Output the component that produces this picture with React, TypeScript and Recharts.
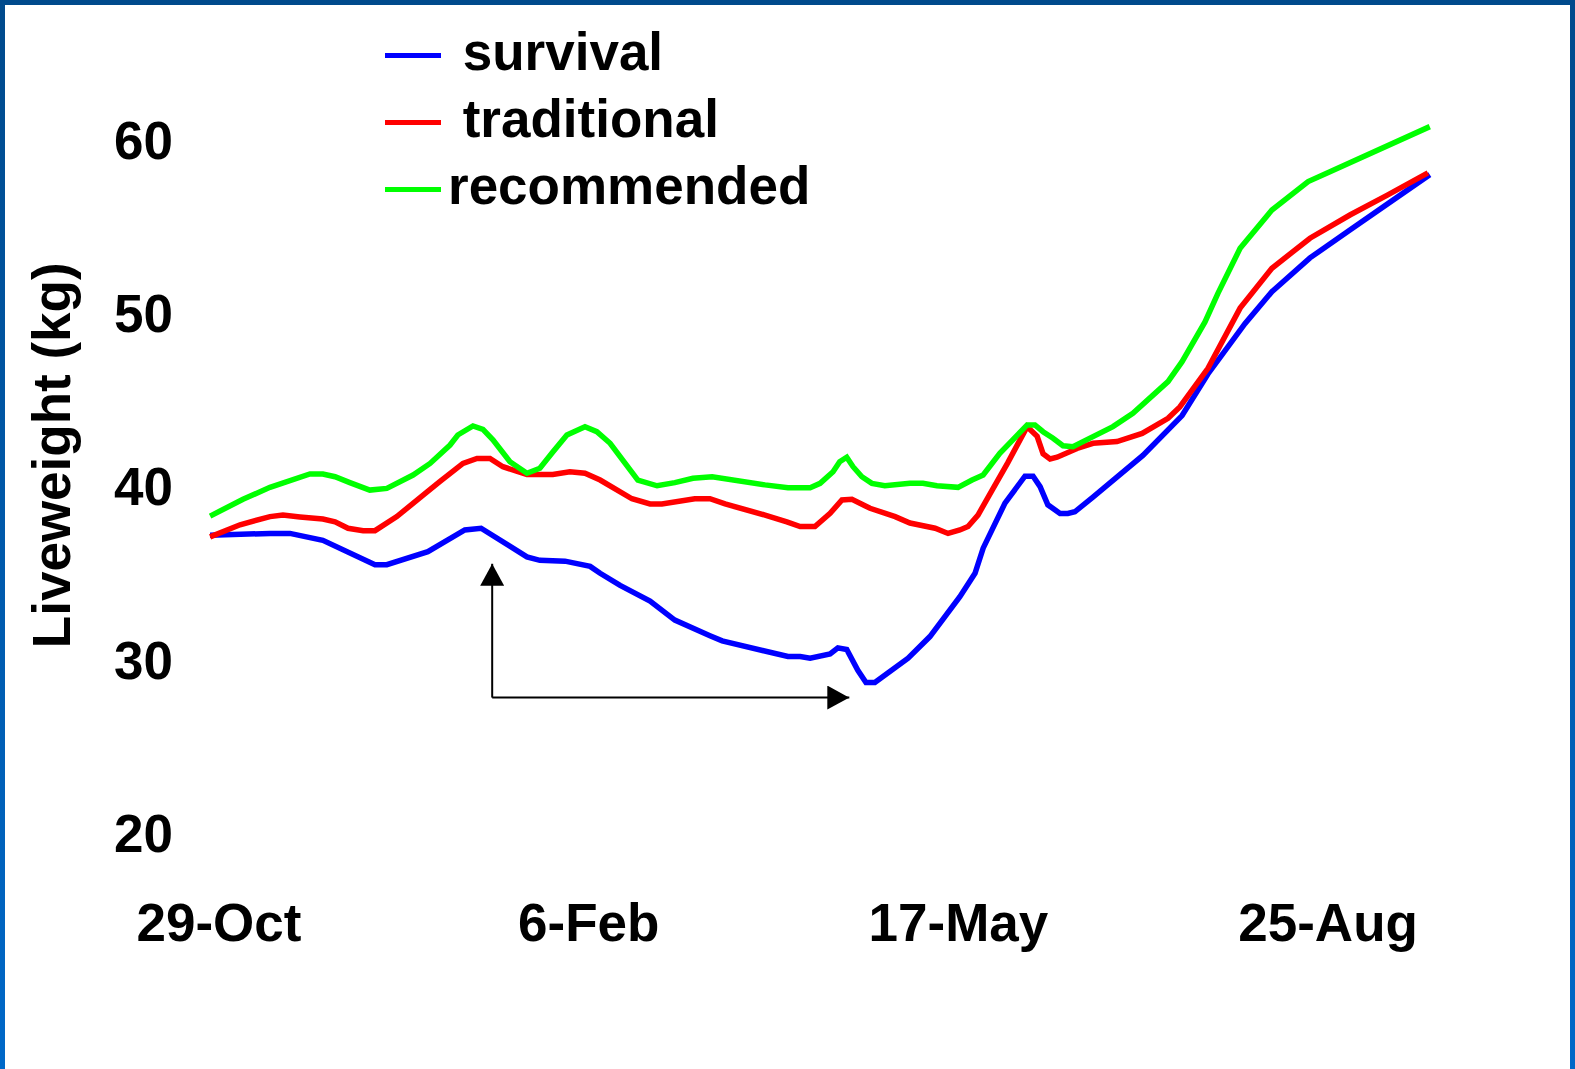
import { LineChart, Line, XAxis, YAxis, ReferenceLine, Legend } from "recharts";

// days counted from 29-Oct
const xTickDays = [0, 100, 200, 300];
const xTickLabels = ["29-Oct", "6-Feb", "17-May", "25-Aug"];
const yTicks = [20, 30, 40, 50, 60];

const survivalDays = [-2.4, 13.8, 19.2, 28.1, 42.2, 45.4, 56.5, 66.5, 70.9, 83.3, 86.8, 93.6, 100.4, 103.1, 108.5, 116.6, 123.3, 132.8, 136.1, 153.9, 157.2, 159.9, 165.3, 167.4, 169.8, 172.8, 175.0, 177.4, 186.4, 192.3, 200.4, 204.5, 206.7, 212.6, 218.0, 220.2, 222.1, 224.2, 227.5, 229.6, 231.5, 236.4, 249.9, 260.5, 267.5, 277.5, 284.8, 295.1, 305.9, 327.5];
const survivalKg = [37.2, 37.3, 37.3, 36.9, 35.5, 35.5, 36.25, 37.5, 37.6, 35.95, 35.75, 35.7, 35.4, 35.0, 34.3, 33.4, 32.3, 31.4, 31.1, 30.2, 30.2, 30.1, 30.35, 30.7, 30.6, 29.4, 28.7, 28.7, 30.1, 31.35, 33.65, 35.0, 36.45, 39.05, 40.6, 40.6, 40.0, 38.95, 38.45, 38.45, 38.55, 39.4, 41.8, 44.1, 46.5, 49.4, 51.25, 53.2, 54.8, 58.0];

const traditionalDays = [-2.4, 5.7, 13.8, 17.3, 21.9, 28.1, 31.4, 34.9, 39.0, 42.2, 48.1, 56.3, 59.8, 66.0, 69.8, 73.3, 76.8, 83.3, 90.3, 94.9, 99.0, 103.1, 111.7, 116.6, 119.8, 128.7, 132.8, 136.9, 147.7, 153.6, 157.2, 161.2, 165.3, 168.5, 171.2, 176.1, 182.9, 186.9, 193.7, 197.2, 200.4, 202.6, 205.3, 209.4, 213.3, 218.6, 221.3, 222.9, 224.8, 226.7, 232.1, 236.4, 242.9, 249.7, 256.7, 259.9, 267.5, 276.2, 284.8, 295.1, 305.9, 315.9, 327.0];
const traditionalKg = [37.1, 37.8, 38.27, 38.36, 38.25, 38.13, 37.97, 37.6, 37.46, 37.46, 38.27, 39.7, 40.3, 41.34, 41.63, 41.63, 41.15, 40.7, 40.7, 40.86, 40.77, 40.38, 39.3, 39.0, 39.0, 39.3, 39.3, 39.0, 38.36, 37.97, 37.7, 37.7, 38.46, 39.23, 39.27, 38.75, 38.27, 37.9, 37.6, 37.3, 37.5, 37.7, 38.36, 39.9, 41.36, 43.46, 42.9, 41.9, 41.6, 41.7, 42.2, 42.5, 42.6, 43.07, 43.94, 44.6, 46.83, 50.3, 52.6, 54.33, 55.67, 56.8, 58.1];

const recommendedDays = [-2.4, 6.5, 13.8, 24.6, 28.1, 31.4, 35.4, 40.8, 45.4, 52.5, 57.1, 62.5, 64.6, 68.7, 71.4, 74.1, 78.7, 83.3, 86.8, 90.3, 94.1, 99.0, 102.2, 105.8, 113.3, 118.5, 123.3, 128.2, 133.4, 147.7, 153.9, 159.9, 162.6, 166.1, 167.9, 169.8, 171.5, 173.9, 176.6, 180.1, 186.9, 190.4, 194.2, 199.9, 203.7, 206.7, 211.2, 218.6, 220.7, 222.9, 225.6, 228.3, 231.0, 233.7, 241.8, 247.2, 253.7, 256.7, 260.5, 266.7, 270.2, 276.2, 284.8, 294.6, 300.5, 327.5];
const recommendedKg = [38.3, 39.27, 39.96, 40.73, 40.73, 40.57, 40.23, 39.8, 39.9, 40.67, 41.34, 42.4, 42.98, 43.5, 43.3, 42.7, 41.44, 40.77, 41.06, 42.0, 42.98, 43.46, 43.17, 42.5, 40.38, 40.05, 40.23, 40.48, 40.57, 40.1, 39.94, 39.94, 40.19, 40.86, 41.44, 41.7, 41.15, 40.57, 40.19, 40.05, 40.19, 40.19, 40.05, 39.96, 40.38, 40.67, 41.92, 43.56, 43.56, 43.17, 42.79, 42.36, 42.3, 42.6, 43.46, 44.23, 45.48, 46.06, 47.21, 49.5, 51.15, 53.75, 55.96, 57.6, 58.17, 60.77];

// arrow annotation: corner, top of the vertical arm, end of the horizontal arm
const arrowCorner = { x: 73.9, y: 27.83 };
const arrowUpTo = 35.55;
const arrowRightTo = 170.5;

const toPoints = (days: number[], kg: number[]) =>
  days.map((day, i) => ({ day, kg: kg[i] }));

const FONT = '"Liberation Sans", Arial, sans-serif';
const tickStyle = { fontSize: 53, fontWeight: 700, fill: "#000", fontFamily: FONT };

function LegendBox({ payload }: any) {
  return (
    <div style={{ fontFamily: FONT, fontWeight: 700, fontSize: 53, color: "#000" }}>
      {(payload || []).map((p: any) => (
        <div key={p.value} style={{ position: "relative", height: 67 }}>
          <div
            style={{
              position: "absolute",
              left: 0,
              top: 35,
              width: 56,
              height: 5,
              background: p.color,
            }}
          />
          <span
            style={{
              position: "absolute",
              left: 63,
              top: 0,
              lineHeight: "67px",
              whiteSpace: "pre",
            }}
          >
            {p.value}
          </span>
        </div>
      ))}
    </div>
  );
}

function YLabel({ viewBox }: any) {
  const x = viewBox.x + 70;
  const y = viewBox.y + viewBox.height / 2 - 14;
  return (
    <text
      x={x}
      y={y}
      transform={`rotate(-90, ${x}, ${y})`}
      textAnchor="middle"
      style={{ fontSize: 53, fontWeight: 700, fill: "#000", fontFamily: FONT }}
    >
      Liveweight (kg)
    </text>
  );
}

export default function App() {
  return (
    <div
      style={{
        position: "absolute",
        left: 0,
        top: 0,
        width: 1575,
        height: 1069,
        background: "linear-gradient(180deg, #004a8c 0%, #0068c8 100%)",
      }}
    >
      <div
        style={{
          position: "absolute",
          left: 5,
          top: 5,
          width: 1565,
          height: 1064,
          background: "#fff",
        }}
      />
      <div style={{ position: "absolute", left: 0, top: 0 }}>
        <LineChart
          width={1575}
          height={1069}
          margin={{ top: 105.3, right: 117.5, bottom: 115.7, left: 0 }}
        >
          <defs>
            <marker
              id="arrowHead"
              markerWidth={22}
              markerHeight={24}
              refX={22}
              refY={12}
              orient="auto"
              markerUnits="userSpaceOnUse"
            >
              <path d="M0,0 L22,12 L0,24 Z" fill="#000" />
            </marker>
          </defs>
          <XAxis
            dataKey="day"
            type="number"
            domain={[-10, 335]}
            ticks={xTickDays}
            tickFormatter={(d: number) => xTickLabels[xTickDays.indexOf(d)]}
            axisLine={false}
            tickLine={false}
            tickSize={0}
            tickMargin={70}
            height={120}
            tick={tickStyle}
            allowDuplicatedCategory={false}
          />
          <YAxis
            type="number"
            domain={[20, 62]}
            ticks={yTicks}
            axisLine={false}
            tickLine={false}
            tickSize={0}
            tickMargin={9}
            width={182}
            tick={tickStyle}
            label={<YLabel />}
          />
          <Legend
            layout="horizontal"
            verticalAlign="middle"
            align="center"
            content={<LegendBox />}
            wrapperStyle={{ position: "absolute", left: 385, top: 17.5, width: 500, height: 201 }}
          />
          <ReferenceLine
            segment={[arrowCorner, { x: arrowCorner.x, y: arrowUpTo }]}
            stroke="#000"
            strokeWidth={2}
            markerEnd="url(#arrowHead)"
          />
          <ReferenceLine
            segment={[arrowCorner, { x: arrowRightTo, y: arrowCorner.y }]}
            stroke="#000"
            strokeWidth={2}
            markerEnd="url(#arrowHead)"
          />
          <Line
            data={toPoints(survivalDays, survivalKg)}
            dataKey="kg"
            name=" survival"
            type="linear"
            stroke="#0000ff"
            strokeWidth={5.5}
            dot={false}
            isAnimationActive={false}
          />
          <Line
            data={toPoints(traditionalDays, traditionalKg)}
            dataKey="kg"
            name=" traditional"
            type="linear"
            stroke="#ff0000"
            strokeWidth={5.5}
            dot={false}
            isAnimationActive={false}
          />
          <Line
            data={toPoints(recommendedDays, recommendedKg)}
            dataKey="kg"
            name="recommended"
            type="linear"
            stroke="#00ff00"
            strokeWidth={5.5}
            dot={false}
            isAnimationActive={false}
          />
        </LineChart>
      </div>
    </div>
  );
}
